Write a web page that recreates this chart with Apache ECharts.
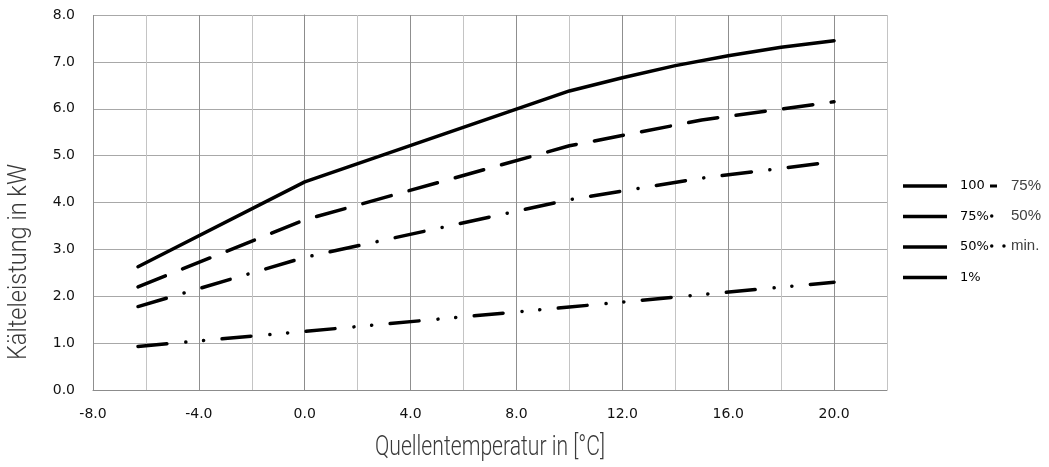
<!DOCTYPE html>
<html>
<head>
<meta charset="utf-8">
<script src="https://cdn.jsdelivr.net/npm/echarts@6/dist/echarts.min.js"></script>
<style>
html,body{margin:0;padding:0;background:#fff;}
#chart{width:1049px;height:467px;}
</style>
</head>
<body>
<div id="chart"></div>
<script>
// ---- data ----
const seriesNames = ['100%', '75%', '50%', 'min.'];

const temps100 = [-6.3, 0, 10, 12, 14, 16, 18, 20];
const power100 = [2.63, 4.44, 6.38, 6.66, 6.92, 7.13, 7.31, 7.45];

const temps75 = [-6.3, 0, 10, 15, 20];
const power75 = [2.20, 3.63, 5.21, 5.76, 6.15];

const temps50 = [-6.3, 0, 10, 15, 20];
const power50 = [1.78, 2.83, 4.06, 4.52, 4.87];

const tempsMin = [-6.3, 0, 10, 20];
const powerMin = [0.93, 1.25, 1.77, 2.30];

const xTickLabels = [-8, -4, 0, 4, 8, 12, 16, 20];
const yTickLabels = [0, 1, 2, 3, 4, 5, 6, 7, 8];

const legendLabelsA = ['100', '75%', '50%', '1%'];
const legendNamesB = ['75%', '50%', 'min.'];
const legendLabelsB = ['75%', '50%', 'min.'];

const xTitle = 'Quellentemperatur in [°C]';
const yTitle = 'Kälteleistung in kW';

// ---- helpers ----
function pairs(xs, ys) { return xs.map((x, i) => [x, ys[i]]); }
function fitScale(text, font, target) {
  const c = document.createElement('canvas').getContext('2d');
  c.font = font;
  const w = c.measureText(text).width;
  return w > 0 ? target / w : 1;
}

const titleFontX = '300 28px Roboto';
const titleFontY = '300 25px Roboto';
const sx = fitScale(xTitle, titleFontX, 230);
const sy = fitScale(yTitle, titleFontY, 196);

const lineBase = { color: '#000', width: 3.5, cap: 'round', join: 'round' };

const iconB = [
  'path://M0,0.6L7,0.6L7,3.4L0,3.4Z M16,0L16,4Z',
  'path://M0.3,2A1.7,1.7,0,1,0,3.7,2A1.7,1.7,0,1,0,0.3,2Z M16,0L16,4Z',
  'path://M0.3,2A1.7,1.7,0,1,0,3.7,2A1.7,1.7,0,1,0,0.3,2Z M12.3,2A1.7,1.7,0,1,0,15.7,2A1.7,1.7,0,1,0,12.3,2Z M16,0L16,4Z'
];

const chart = echarts.init(document.getElementById('chart'), null, { renderer: 'canvas' });

const option = {
  animation: false,
  backgroundColor: '#fff',
  color: ['#000', '#000', '#000', '#000'],
  grid: { left: 93, right: 162, top: 15, bottom: 77, containLabel: false },
  xAxis: {
    type: 'value', min: -8, max: 22, interval: 2,
    axisLine: { show: true, lineStyle: { color: '#8c8c8c', width: 1 } },
    axisTick: { show: false },
    axisLabel: {
      margin: 17, color: '#111', fontFamily: 'DejaVu Sans', fontSize: 14,
      showMaxLabel: false,
      formatter: v => xTickLabels.indexOf(v) >= 0 ? v.toFixed(1) : ''
    },
    splitLine: { show: true, lineStyle: { color: ['#8f8f8f', '#c4c4c4'], width: 1 } }
  },
  yAxis: {
    type: 'value', min: 0, max: 8, interval: 1,
    axisLine: { show: true, lineStyle: { color: '#8c8c8c', width: 1 } },
    axisTick: { show: false },
    axisLabel: {
      margin: 18, color: '#111', fontFamily: 'DejaVu Sans', fontSize: 14,
      formatter: v => yTickLabels.indexOf(v) >= 0 ? v.toFixed(1) : ''
    },
    splitLine: { show: true, lineStyle: { color: '#a8a8a8', width: 1 } }
  },
  legend: [
    {
      id: 'legA', orient: 'vertical', left: 903, top: 179, padding: 0,
      itemGap: 16.5, itemWidth: 44, itemHeight: 3.5, icon: 'rect',
      selectedMode: false,
      itemStyle: { color: '#000', borderWidth: 0 },
      textStyle: { fontFamily: 'DejaVu Sans', fontSize: 13, color: '#000', lineHeight: 14, padding: [0, 0, 0, 8] },
      data: seriesNames,
      formatter: name => legendLabelsA[seriesNames.indexOf(name)]
    },
    {
      id: 'legB', orient: 'vertical', left: 990, top: 178.5, padding: 0,
      itemGap: 15, itemWidth: 16, itemHeight: 4, symbolKeepAspect: false,
      selectedMode: false,
      itemStyle: { color: '#000', borderWidth: 0 },
      textStyle: { fontFamily: 'Liberation Sans', fontSize: 15, color: '#404040', lineHeight: 15 },
      data: legendNamesB.map((n, i) => ({ name: n, icon: iconB[i] })),
      formatter: name => legendLabelsB[legendNamesB.indexOf(name)]
    }
  ],
  graphic: [
    {
      type: 'text', x: 490, y: 448, scaleX: sx, silent: true,
      style: { text: xTitle, font: titleFontX, fill: '#3a3a3a', align: 'center', verticalAlign: 'middle' }
    },
    {
      type: 'text', x: 20, y: 262, rotation: Math.PI / 2, scaleX: sy, silent: true,
      style: { text: yTitle, font: titleFontY, fill: '#3a3a3a', align: 'center', verticalAlign: 'middle' }
    }
  ],
  series: [
    {
      name: seriesNames[0], type: 'line', symbol: 'none', smooth: false,
      itemStyle: { color: '#000' },
      data: pairs(temps100, power100),
      lineStyle: Object.assign({}, lineBase, { type: 'solid' })
    },
    {
      name: seriesNames[1], type: 'line', symbol: 'none', smooth: false,
      itemStyle: { color: '#000' },
      data: pairs(temps75, power75),
      lineStyle: Object.assign({}, lineBase, { type: [29.5, 18.5] })
    },
    {
      name: seriesNames[2], type: 'line', symbol: 'none', smooth: false,
      itemStyle: { color: '#000' },
      data: pairs(temps50, power50),
      lineStyle: Object.assign({}, lineBase, { type: [29.5, 18.5, 0.1, 18.5] })
    },
    {
      name: seriesNames[3], type: 'line', symbol: 'none', smooth: false,
      itemStyle: { color: '#000' },
      data: pairs(tempsMin, powerMin),
      lineStyle: Object.assign({}, lineBase, { type: [29, 19, 0.1, 17.7, 0.1, 18.5] })
    }
  ]
};
chart.setOption(option);
</script>
</body>
</html>
